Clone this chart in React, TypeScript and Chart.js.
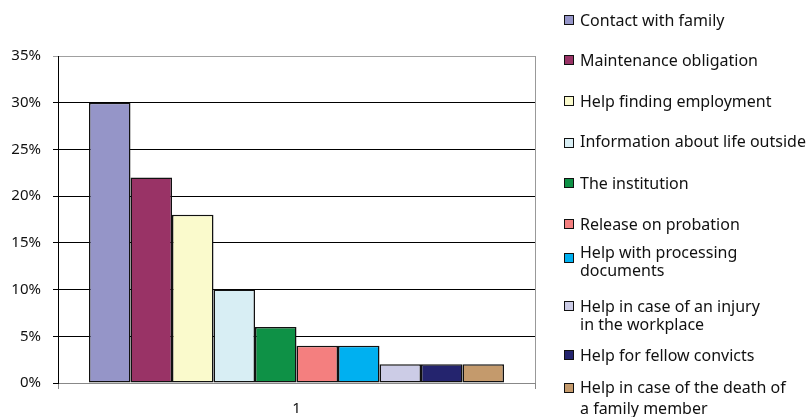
import React, { useEffect, useRef } from "react";
import { Chart, registerables } from "chart.js";

Chart.register(...registerables);

const categories = ["1"];
const seriesLabels = [
  "Contact with family",
  "Maintenance obligation",
  "Help finding employment",
  "Information about life outside",
  "The institution",
  "Release on probation",
  "Help with processing\ndocuments",
  "Help in case of an injury\nin the workplace",
  "Help for fellow convicts",
  "Help in case of the death of\na family member",
];
const seriesValues = [30, 22, 18, 10, 6, 4, 4, 2, 2, 2];
const seriesColors = [
  "#9595C8",
  "#993366",
  "#FAFACC",
  "#D8EEF4",
  "#0E9146",
  "#F47F7F",
  "#00B0F0",
  "#CCCCE6",
  "#24246E",
  "#C49A6C",
];
const yMin = 0;
const yMax = 35;
const yStep = 5;

// legend layout (pixel centres of each row's text lines and its box)
const legendTextY = [20, 60, 101, 141, 183, 224, 252, 306, 355, 387];
const legendBoxY = [20, 60, 101, 143, 183, 224, 258, 306, 355, 388];
const legendLineH = [18, 18, 18, 18, 18, 18, 18, 18, 18, 21];

const FONT = "'Noto Sans', sans-serif";

export default function App() {
  const ref = useRef<HTMLCanvasElement | null>(null);

  useEffect(() => {
    document.body.style.margin = "0";
    const canvas = ref.current;
    if (!canvas) return;
    const borderPlugin = {
      id: "plotBorder",
      beforeDatasetsDraw(chart: any) {
        const { ctx, chartArea } = chart;
        ctx.save();
        ctx.strokeStyle = "#999";
        ctx.lineWidth = 1;
        ctx.beginPath();
        ctx.moveTo(Math.round(chartArea.right) + 0.5, chartArea.top);
        ctx.lineTo(Math.round(chartArea.right) + 0.5, chartArea.bottom);
        ctx.stroke();
        ctx.restore();
      },
    };
    const chart = new Chart(canvas, {
      type: "bar",
      data: {
        labels: categories,
        datasets: seriesLabels.map((label, i) => ({
          label,
          data: [seriesValues[i]],
          backgroundColor: seriesColors[i],
          borderColor: "#111",
          borderWidth: 1.5,
          borderSkipped: false,
          categoryPercentage: 0.87,
          barPercentage: 1,
        })),
      },
      options: {
        responsive: false,
        animation: false,
        devicePixelRatio: 1,
        layout: { padding: { left: 0, right: 272, top: 56, bottom: 0 } },
        plugins: {
          legend: { display: false },
          tooltip: { enabled: false },
        },
        scales: {
          x: {
            afterFit(scale: any) {
              scale.height = 34;
            },
            grid: {
              offset: true,
              drawOnChartArea: false,
              tickLength: 6,
              color: "#888",
            },
            border: { color: "#888", width: 1 },
            ticks: {
              padding: 11,
              color: "#111",
              font: { family: FONT, size: 15 },
            },
          },
          y: {
            min: yMin,
            max: yMax,
            afterFit(scale: any) {
              scale.width = 58;
            },
            ticks: {
              stepSize: yStep,
              padding: 12,
              color: "#111",
              font: { family: FONT, size: 15 },
              callback: (v: any) => `${v}%`,
            },
            grid: {
              tickLength: 5,
              color: (c: any) => (c.tick && c.tick.value === yMax ? "#a0a0a0" : "#000"),
              lineWidth: 1,
            },
            border: { color: "#000", width: 1 },
          },
        },
      },
      plugins: [borderPlugin],
    });
    return () => chart.destroy();
  }, []);

  return (
    <div style={{ position: "relative", width: 807, height: 417, background: "#fff", overflow: "hidden" }}>
      <canvas ref={ref} width={807} height={417} style={{ position: "absolute", left: 0, top: 0 }} />
      {seriesLabels.map((label, i) => {
        const lines = label.split("\n");
        return (
          <React.Fragment key={i}>
            <div
              style={{
                position: "absolute",
                left: 564,
                top: legendBoxY[i] - 5,
                width: 8,
                height: 8,
                background: seriesColors[i],
                border: "1.5px solid #111",
              }}
            />
            {lines.map((ln, j) => (
              <div
                key={j}
                style={{
                  position: "absolute",
                  left: 580,
                  top: legendTextY[i] + j * legendLineH[i] - 11,
                  height: 22,
                  lineHeight: "22px",
                  fontFamily: FONT,
                  fontSize: 16,
                  color: "#111",
                  whiteSpace: "nowrap",
                }}
              >
                {ln}
              </div>
            ))}
          </React.Fragment>
        );
      })}
    </div>
  );
}
